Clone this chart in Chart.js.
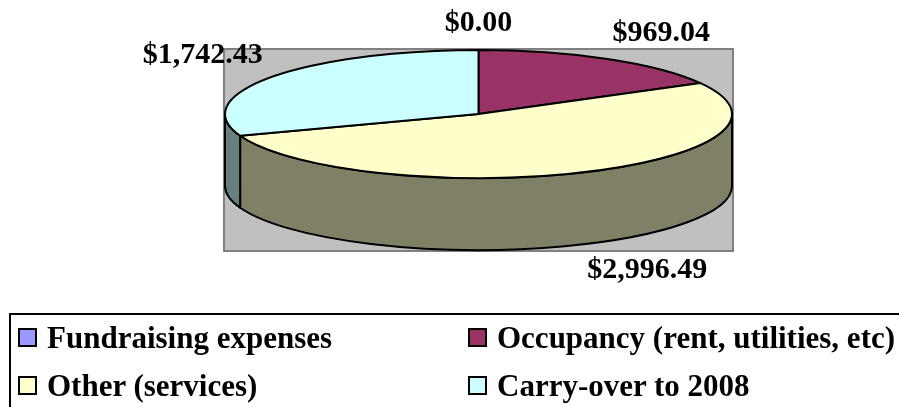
<!DOCTYPE html>
<html>
<head>
<meta charset="utf-8">
<script src="https://cdn.jsdelivr.net/npm/chart.js@4.4.1/dist/chart.umd.min.js"></script>
<style>
    html, body { margin: 0; padding: 0; background: #ffffff; overflow: hidden; }
    #wrap { position: relative; width: 899px; height: 407px; }
    #legend {
        position: absolute; left: 9px; top: 313px; width: 920px; height: 130px;
        border: 2px solid #000000;
        font-family: 'Liberation Serif', 'Times New Roman', serif;
        font-weight: bold; font-size: 31px; line-height: 30px; color: #000000;
    }
    .legend-item { position: absolute; white-space: nowrap; padding-left: 29px; }
    .legend-box {
        position: absolute; left: 0; top: 5px; width: 19px; height: 19px;
        box-sizing: border-box; border: 2px solid #000000;
    }
</style>
</head>
<body>
<div id="wrap">
    <canvas id="chart-pie3d"></canvas>
    <div id="legend"></div>
</div>
<script>
/* =========================================
   DATA
   ========================================= */
const categories = ['Fundraising expenses', 'Occupancy (rent, utilities, etc)', 'Other (services)', 'Carry-over to 2008'];
const amounts = [0, 969.04, 2996.49, 1742.43];
const topColors = ['#9999FF', '#993366', '#FFFFCC', '#CCFFFF'];
const sideColors = ['#4D4D80', '#4D1A33', '#808066', '#668080'];

const LABEL_FONT = "bold 30px 'Liberation Serif', 'Times New Roman', serif";

function money(v) {
    return '$' + v.toLocaleString('en-US', { minimumFractionDigits: 2, maximumFractionDigits: 2 });
}

/* =========================================
   3D PIE PLUGIN (draws the library's arcs as a tilted disc)
   ========================================= */
const pie3d = {
    id: 'pie3d',
    beforeDraw(chart) {
        // grey plot area
        const { ctx, chartArea: a } = chart;
        ctx.save();
        ctx.fillStyle = '#C0C0C0';
        ctx.fillRect(a.left, a.top, a.right - a.left, a.bottom - a.top);
        ctx.strokeStyle = '#808080';
        ctx.lineWidth = 2;
        ctx.strokeRect(a.left, a.top, a.right - a.left, a.bottom - a.top);
        ctx.restore();
    },
    beforeDatasetsDraw(chart) {
        const { ctx, chartArea: a } = chart;
        const arcs = chart.getDatasetMeta(0).data;
        const cx = arcs[0].x;
        const rx = (a.right - a.left) / 2 - 1;
        const ry = 64;
        const depth = 72;
        const cy = a.top + 1 + ry;

        ctx.save();
        ctx.lineWidth = 2;
        ctx.strokeStyle = '#000000';
        ctx.lineJoin = 'round';

        // side walls (front half only: 0..PI)
        arcs.forEach((arc, i) => {
            const s = Math.max(arc.startAngle, 0);
            const e = Math.min(arc.endAngle, Math.PI);
            if (e <= s) return;
            ctx.beginPath();
            ctx.ellipse(cx, cy, rx, ry, 0, s, e);
            ctx.ellipse(cx, cy + depth, rx, ry, 0, e, s, true);
            ctx.closePath();
            ctx.fillStyle = sideColors[i];
            ctx.fill();
            ctx.stroke();
        });

        // top faces
        arcs.forEach((arc, i) => {
            if (arc.endAngle - arc.startAngle <= 0) return;
            ctx.beginPath();
            ctx.moveTo(cx, cy);
            ctx.ellipse(cx, cy, rx, ry, 0, arc.startAngle, arc.endAngle);
            ctx.closePath();
            ctx.fillStyle = topColors[i];
            ctx.fill();
            ctx.stroke();
        });

        // value labels outside the disc
        ctx.font = LABEL_FONT;
        ctx.fillStyle = '#000000';
        arcs.forEach((arc, i) => {
            const m = (arc.startAngle + arc.endAngle) / 2;
            const c = Math.cos(m), sn = Math.sin(m);
            let x = cx + rx * c + c * 10;
            let y = cy + ry * sn + (sn > 0 ? depth : 0) + sn * 12;
            ctx.textAlign = Math.abs(c) < 0.1 ? 'center' : (c > 0 ? 'left' : 'right');
            ctx.textBaseline = sn > 0 ? 'top' : 'bottom';
            ctx.fillText(money(amounts[i]), x, y);
        });
        ctx.restore();
        return false; // skip flat arcs
    }
};

/* =========================================
   CHART
   ========================================= */
new Chart(document.getElementById('chart-pie3d'), {
    type: 'pie',
    data: {
        labels: categories,
        datasets: [{
            data: amounts,
            backgroundColor: topColors,
            borderColor: '#000000',
            borderWidth: 2
        }]
    },
    options: {
        responsive: true,
        maintainAspectRatio: false,
        animation: false,
        events: [],
        layout: { padding: { left: 224, right: 166, top: 49, bottom: 156 } },
        plugins: { legend: { display: false }, tooltip: { enabled: false } }
    },
    plugins: [pie3d]
});

/* =========================================
   LEGEND (two columns in a framed box)
   ========================================= */
const legend = document.getElementById('legend');
categories.forEach((name, i) => {
    const item = document.createElement('div');
    item.className = 'legend-item';
    item.style.left = (7 + (i % 2) * 450) + 'px';
    item.style.top = (8 + Math.floor(i / 2) * 48) + 'px';
    const box = document.createElement('span');
    box.className = 'legend-box';
    box.style.background = topColors[i];
    item.appendChild(box);
    item.appendChild(document.createTextNode(name));
    legend.appendChild(item);
});
</script>
</body>
</html>
